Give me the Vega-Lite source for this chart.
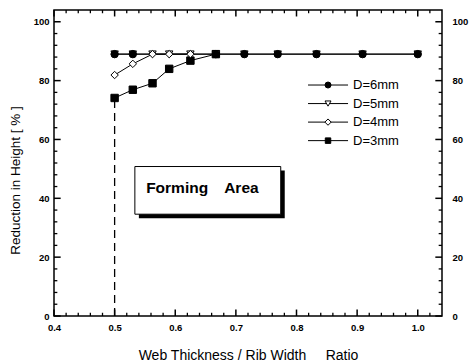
{
  "$schema": "https://vega.github.io/schema/vega-lite/v6.json",
  "width": 388,
  "height": 306,
  "autosize": "none",
  "padding": {"left": 54, "top": 10, "right": 29, "bottom": 46},
  "background": "white",
  "data": {
    "values": [
      {"D": "D=3mm", "r": 0.5, "h": 74.1},
      {"D": "D=3mm", "r": 0.53, "h": 76.9},
      {"D": "D=3mm", "r": 0.5625, "h": 79.1},
      {"D": "D=3mm", "r": 0.59, "h": 84.0},
      {"D": "D=3mm", "r": 0.625, "h": 86.8},
      {"D": "D=3mm", "r": 0.667, "h": 89},
      {"D": "D=5mm", "r": 0.5, "h": 89},
      {"D": "D=5mm", "r": 0.53, "h": 89},
      {"D": "D=5mm", "r": 0.5625, "h": 89},
      {"D": "D=5mm", "r": 0.59, "h": 89},
      {"D": "D=5mm", "r": 0.625, "h": 89},
      {"D": "D=5mm", "r": 0.667, "h": 89},
      {"D": "D=5mm", "r": 0.714, "h": 89},
      {"D": "D=5mm", "r": 0.769, "h": 89},
      {"D": "D=5mm", "r": 0.833, "h": 89},
      {"D": "D=5mm", "r": 0.909, "h": 89},
      {"D": "D=5mm", "r": 1.0, "h": 89},
      {"D": "D=4mm", "r": 0.5, "h": 81.9},
      {"D": "D=4mm", "r": 0.53, "h": 85.7},
      {"D": "D=4mm", "r": 0.5625, "h": 89},
      {"D": "D=4mm", "r": 0.59, "h": 89},
      {"D": "D=4mm", "r": 0.625, "h": 89},
      {"D": "D=6mm", "r": 0.5, "h": 89},
      {"D": "D=6mm", "r": 0.53, "h": 89},
      {"D": "D=6mm", "r": 0.667, "h": 89},
      {"D": "D=6mm", "r": 0.714, "h": 89},
      {"D": "D=6mm", "r": 0.769, "h": 89},
      {"D": "D=6mm", "r": 0.833, "h": 89},
      {"D": "D=6mm", "r": 0.909, "h": 89},
      {"D": "D=6mm", "r": 1.0, "h": 89}
    ]
  },
  "layer": [
    {
      "mark": {"type": "line", "color": "black", "strokeWidth": 1},
      "encoding": {
        "x": {
          "field": "r", "type": "quantitative",
          "scale": {"domain": [0.4, 1.04], "nice": false, "zero": false},
          "axis": {
            "orient": "bottom",
            "values": [0.4, 0.5, 0.6, 0.7, 0.8, 0.9, 1.0],
            "format": ".1f",
            "ticks": false,
            "labelPadding": 6,
            "labelOverlap": false,
            "labelFlush": false,
            "title": "Web Thickness / Rib Width\u00a0\u00a0\u00a0\u00a0\u00a0Ratio",
            "titleFontSize": 14,
            "titleY": 39,
            "titleBaseline": "middle"
          }
        },
        "y": {
          "field": "h", "type": "quantitative",
          "scale": {"domain": [0, 104], "nice": false},
          "axis": {
            "orient": "left",
            "values": [0, 20, 40, 60, 80, 100],
            "ticks": false,
            "labelPadding": 5,
            "labelOverlap": false,
            "labelFlush": false,
            "title": "Reduction in Height [ % ]",
            "titleFontSize": 13.5,
            "titleX": -39,
            "titleY": 170,
            "titleBaseline": "middle"
          }
        },
        "detail": {"field": "D"},
        "order": {"field": "r"}
      }
    },
    {
      "data": {"values": [{}]},
      "mark": {"type": "rule", "color": "black", "strokeWidth": 1.3, "strokeDash": [8, 5]},
      "encoding": {
        "x": {"datum": 0.5, "type": "quantitative", "axis": null},
        "y": {"datum": 0, "type": "quantitative", "axis": null},
        "y2": {"datum": 74.1}
      }
    },
    {
      "data": {"values": [{}]},
      "mark": {"type": "rect", "color": "black", "xOffset": 4, "x2Offset": 4, "yOffset": 4, "y2Offset": 4},
      "encoding": {
        "x": {"datum": 0.5334, "type": "quantitative", "axis": null},
        "x2": {"datum": 0.774},
        "y": {"datum": 50.8, "type": "quantitative", "axis": null},
        "y2": {"datum": 34.6}
      }
    },
    {
      "data": {"values": [{}]},
      "mark": {"type": "rect", "fill": "white", "stroke": "black", "strokeWidth": 1},
      "encoding": {
        "x": {"datum": 0.5334, "type": "quantitative", "axis": null},
        "x2": {"datum": 0.774},
        "y": {"datum": 50.8, "type": "quantitative", "axis": null},
        "y2": {"datum": 34.6}
      }
    },
    {
      "data": {"values": [{}]},
      "mark": {"type": "text", "align": "left", "baseline": "alphabetic", "font": "Liberation Sans", "fontSize": 15.5, "fontWeight": "bold", "fill": "black", "text": "Forming\u00a0\u00a0\u00a0\u2009Area"},
      "encoding": {
        "x": {"datum": 0.552, "type": "quantitative", "axis": null},
        "y": {"datum": 41.9, "type": "quantitative", "axis": null}
      }
    },
    {
      "mark": {"type": "point", "stroke": "black", "strokeWidth": 1, "opacity": 1, "fillOpacity": 1, "size": 55},
      "encoding": {
        "x": {"field": "r", "type": "quantitative", "axis": null},
        "y": {
          "field": "h", "type": "quantitative",
          "axis": {
            "orient": "right",
            "values": [0, 20, 40, 60, 80, 100],
            "ticks": false,
            "labelPadding": 10,
            "labelOverlap": false,
            "labelFlush": false,
            "title": null
          }
        },
        "shape": {
          "field": "D", "type": "nominal",
          "scale": {"domain": ["D=6mm", "D=5mm", "D=4mm", "D=3mm"], "range": ["circle", "triangle-down", "diamond", "square"]},
          "legend": null
        },
        "fill": {
          "field": "D", "type": "nominal",
          "scale": {"domain": ["D=6mm", "D=5mm", "D=4mm", "D=3mm"], "range": ["black", "white", "white", "black"]},
          "legend": null
        }
      }
    },
    {
      "data": {"values": [{"v": 0.4}, {"v": 0.5}, {"v": 0.6}, {"v": 0.7}, {"v": 0.8}, {"v": 0.9}, {"v": 1.0}]},
      "mark": {"type": "rule", "color": "black", "strokeWidth": 1.5},
      "encoding": {"x": {"field": "v", "type": "quantitative", "axis": null}, "y": {"datum": 0, "type": "quantitative", "axis": null}, "y2": {"datum": 2.2}}
    },
    {
      "data": {"values": [{"v": 0.42}, {"v": 0.44}, {"v": 0.46}, {"v": 0.48}, {"v": 0.52}, {"v": 0.54}, {"v": 0.56}, {"v": 0.58}, {"v": 0.62}, {"v": 0.64}, {"v": 0.66}, {"v": 0.68}, {"v": 0.72}, {"v": 0.74}, {"v": 0.76}, {"v": 0.78}, {"v": 0.82}, {"v": 0.84}, {"v": 0.86}, {"v": 0.88}, {"v": 0.92}, {"v": 0.94}, {"v": 0.96}, {"v": 0.98}, {"v": 1.02}]},
      "mark": {"type": "rule", "color": "black", "strokeWidth": 1.3},
      "encoding": {"x": {"field": "v", "type": "quantitative", "axis": null}, "y": {"datum": 0, "type": "quantitative", "axis": null}, "y2": {"datum": 1.1}}
    },
    {
      "data": {"values": [{"v": 0.4}, {"v": 0.5}, {"v": 0.6}, {"v": 0.7}, {"v": 0.8}, {"v": 0.9}, {"v": 1.0}]},
      "mark": {"type": "rule", "color": "black", "strokeWidth": 1.5},
      "encoding": {"x": {"field": "v", "type": "quantitative", "axis": null}, "y": {"datum": 104, "type": "quantitative", "axis": null}, "y2": {"datum": 101.8}}
    },
    {
      "data": {"values": [{"v": 0.42}, {"v": 0.44}, {"v": 0.46}, {"v": 0.48}, {"v": 0.52}, {"v": 0.54}, {"v": 0.56}, {"v": 0.58}, {"v": 0.62}, {"v": 0.64}, {"v": 0.66}, {"v": 0.68}, {"v": 0.72}, {"v": 0.74}, {"v": 0.76}, {"v": 0.78}, {"v": 0.82}, {"v": 0.84}, {"v": 0.86}, {"v": 0.88}, {"v": 0.92}, {"v": 0.94}, {"v": 0.96}, {"v": 0.98}, {"v": 1.02}]},
      "mark": {"type": "rule", "color": "black", "strokeWidth": 1.3},
      "encoding": {"x": {"field": "v", "type": "quantitative", "axis": null}, "y": {"datum": 104, "type": "quantitative", "axis": null}, "y2": {"datum": 102.9}}
    },
    {
      "data": {"values": [{"v": 0}, {"v": 20}, {"v": 40}, {"v": 60}, {"v": 80}, {"v": 100}]},
      "mark": {"type": "rule", "color": "black", "strokeWidth": 1.5},
      "encoding": {"y": {"field": "v", "type": "quantitative", "axis": null}, "x": {"datum": 0.4, "type": "quantitative", "axis": null}, "x2": {"datum": 0.411}}
    },
    {
      "data": {"values": [{"v": 4}, {"v": 8}, {"v": 12}, {"v": 16}, {"v": 24}, {"v": 28}, {"v": 32}, {"v": 36}, {"v": 44}, {"v": 48}, {"v": 52}, {"v": 56}, {"v": 64}, {"v": 68}, {"v": 72}, {"v": 76}, {"v": 84}, {"v": 88}, {"v": 92}, {"v": 96}]},
      "mark": {"type": "rule", "color": "black", "strokeWidth": 1.3},
      "encoding": {"y": {"field": "v", "type": "quantitative", "axis": null}, "x": {"datum": 0.4, "type": "quantitative", "axis": null}, "x2": {"datum": 0.4055}}
    },
    {
      "data": {"values": [{"v": 0}, {"v": 20}, {"v": 40}, {"v": 60}, {"v": 80}, {"v": 100}]},
      "mark": {"type": "rule", "color": "black", "strokeWidth": 1.5},
      "encoding": {"y": {"field": "v", "type": "quantitative", "axis": null}, "x": {"datum": 1.04, "type": "quantitative", "axis": null}, "x2": {"datum": 1.029}}
    },
    {
      "data": {"values": [{"v": 4}, {"v": 8}, {"v": 12}, {"v": 16}, {"v": 24}, {"v": 28}, {"v": 32}, {"v": 36}, {"v": 44}, {"v": 48}, {"v": 52}, {"v": 56}, {"v": 64}, {"v": 68}, {"v": 72}, {"v": 76}, {"v": 84}, {"v": 88}, {"v": 92}, {"v": 96}]},
      "mark": {"type": "rule", "color": "black", "strokeWidth": 1.3},
      "encoding": {"y": {"field": "v", "type": "quantitative", "axis": null}, "x": {"datum": 1.04, "type": "quantitative", "axis": null}, "x2": {"datum": 1.0345}}
    },
    {
      "data": {"values": [{}]},
      "mark": {"type": "rule", "color": "black", "strokeWidth": 1},
      "encoding": {"x": {"datum": 0.819, "type": "quantitative", "axis": null}, "x2": {"datum": 0.885}, "y": {"datum": 78.5, "type": "quantitative", "axis": null}}
    },
    {
      "data": {"values": [{}]},
      "mark": {"type": "rule", "color": "black", "strokeWidth": 1},
      "encoding": {"x": {"datum": 0.819, "type": "quantitative", "axis": null}, "x2": {"datum": 0.885}, "y": {"datum": 72.2, "type": "quantitative", "axis": null}}
    },
    {
      "data": {"values": [{}]},
      "mark": {"type": "rule", "color": "black", "strokeWidth": 1},
      "encoding": {"x": {"datum": 0.819, "type": "quantitative", "axis": null}, "x2": {"datum": 0.885}, "y": {"datum": 65.9, "type": "quantitative", "axis": null}}
    },
    {
      "data": {"values": [{}]},
      "mark": {"type": "rule", "color": "black", "strokeWidth": 1},
      "encoding": {"x": {"datum": 0.819, "type": "quantitative", "axis": null}, "x2": {"datum": 0.885}, "y": {"datum": 59.6, "type": "quantitative", "axis": null}}
    },
    {
      "data": {"values": [{}]},
      "mark": {"type": "point", "shape": "circle", "size": 36, "fill": "black", "stroke": "black", "strokeWidth": 1, "opacity": 1, "fillOpacity": 1},
      "encoding": {"x": {"datum": 0.852, "type": "quantitative", "axis": null}, "y": {"datum": 78.5, "type": "quantitative", "axis": null}}
    },
    {
      "data": {"values": [{}]},
      "mark": {"type": "point", "shape": "triangle-down", "size": 36, "fill": "white", "stroke": "black", "strokeWidth": 1, "opacity": 1, "fillOpacity": 1},
      "encoding": {"x": {"datum": 0.852, "type": "quantitative", "axis": null}, "y": {"datum": 72.2, "type": "quantitative", "axis": null}}
    },
    {
      "data": {"values": [{}]},
      "mark": {"type": "point", "shape": "diamond", "size": 40, "fill": "white", "stroke": "black", "strokeWidth": 1, "opacity": 1, "fillOpacity": 1},
      "encoding": {"x": {"datum": 0.852, "type": "quantitative", "axis": null}, "y": {"datum": 65.9, "type": "quantitative", "axis": null}}
    },
    {
      "data": {"values": [{}]},
      "mark": {"type": "point", "shape": "square", "size": 30, "fill": "black", "stroke": "black", "strokeWidth": 1, "opacity": 1, "fillOpacity": 1},
      "encoding": {"x": {"datum": 0.852, "type": "quantitative", "axis": null}, "y": {"datum": 59.6, "type": "quantitative", "axis": null}}
    },
    {
      "data": {"values": [{}]},
      "mark": {"type": "text", "align": "left", "baseline": "middle", "font": "Liberation Sans", "fontSize": 13, "fill": "black", "text": "D=6mm"},
      "encoding": {"x": {"datum": 0.8933, "type": "quantitative", "axis": null}, "y": {"datum": 78.5, "type": "quantitative", "axis": null}}
    },
    {
      "data": {"values": [{}]},
      "mark": {"type": "text", "align": "left", "baseline": "middle", "font": "Liberation Sans", "fontSize": 13, "fill": "black", "text": "D=5mm"},
      "encoding": {"x": {"datum": 0.8933, "type": "quantitative", "axis": null}, "y": {"datum": 72.2, "type": "quantitative", "axis": null}}
    },
    {
      "data": {"values": [{}]},
      "mark": {"type": "text", "align": "left", "baseline": "middle", "font": "Liberation Sans", "fontSize": 13, "fill": "black", "text": "D=4mm"},
      "encoding": {"x": {"datum": 0.8933, "type": "quantitative", "axis": null}, "y": {"datum": 65.9, "type": "quantitative", "axis": null}}
    },
    {
      "data": {"values": [{}]},
      "mark": {"type": "text", "align": "left", "baseline": "middle", "font": "Liberation Sans", "fontSize": 13, "fill": "black", "text": "D=3mm"},
      "encoding": {"x": {"datum": 0.8933, "type": "quantitative", "axis": null}, "y": {"datum": 59.6, "type": "quantitative", "axis": null}}
    }
  ],
  "resolve": {
    "axis": {"x": "independent", "y": "independent"}
  },
  "config": {
    "view": {"stroke": "black", "strokeWidth": 1.5},
    "font": "Liberation Sans",
    "axis": {
      "grid": false,
      "domain": false,
      "labelColor": "black",
      "titleColor": "black",
      "labelFont": "Liberation Sans",
      "titleFont": "Liberation Sans",
      "labelFontWeight": "bold",
      "labelFontSize": 9.5,
      "titleFontWeight": "normal",
      "titleFontSize": 12.5
    }
  }
}
